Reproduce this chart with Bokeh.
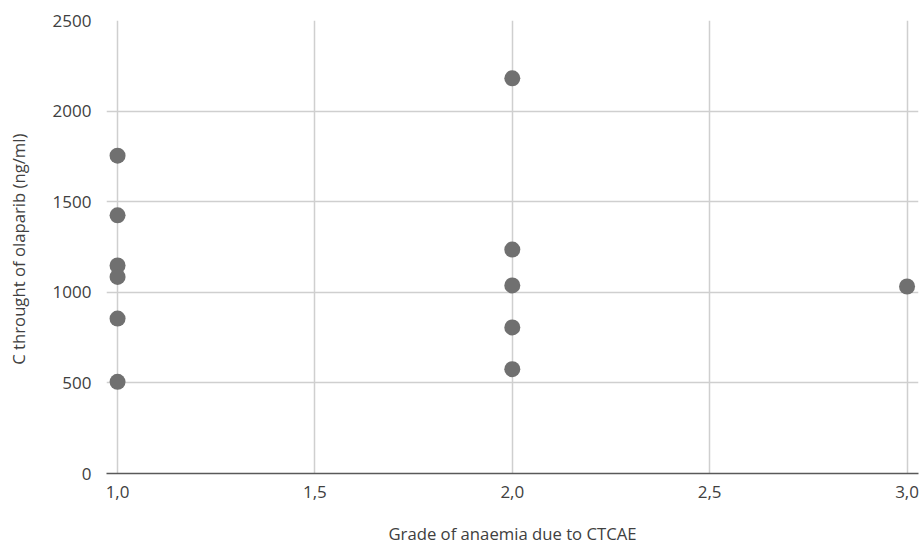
from bokeh.plotting import figure
from bokeh.models import Range1d, FixedTicker, ColumnDataSource
from bokeh.embed import file_html
from bokeh.resources import INLINE

grade = [1.0, 1.0, 1.0, 1.0, 1.0, 1.0, 2.0, 2.0, 2.0, 2.0, 2.0, 3.0]
ctrough = [1754, 1425, 1148, 1085, 855, 506, 2181, 1236, 1038, 806, 576, 1032]
x_ticks = [1.0, 1.5, 2.0, 2.5, 3.0]
x_tick_labels = {1.0: "1,0", 1.5: "1,5", 2.0: "2,0", 2.5: "2,5", 3.0: "3,0"}
y_ticks = [0, 500, 1000, 1500, 2000, 2500]

FONT = "Open Sans"
TEXT = "#404040"

p = figure(width=919, height=548, output_backend="svg", toolbar_location=None,
           x_range=Range1d(0.972, 3.029), y_range=Range1d(0, 2500),
           min_border_left=106, min_border_right=1, min_border_top=20, min_border_bottom=75)
p.outline_line_color = None
p.background_fill_color = "white"
p.border_fill_color = "white"

src = ColumnDataSource(dict(x=grade, y=ctrough))
p.scatter("x", "y", source=src, size=16, fill_color="#707070", line_color=None)

p.xgrid.ticker = FixedTicker(ticks=x_ticks)
p.ygrid.ticker = FixedTicker(ticks=y_ticks)
p.xgrid.grid_line_color = "#cfcfcf"
p.ygrid.grid_line_color = "#cfcfcf"
p.xgrid.grid_line_width = 1.5
p.ygrid.grid_line_width = 1.5

xa = p.xaxis[0]
xa.ticker = FixedTicker(ticks=x_ticks)
xa.major_label_overrides = x_tick_labels
xa.axis_line_color = "#595959"
xa.axis_line_width = 1.5
xa.major_tick_line_color = None
xa.minor_tick_line_color = None
xa.major_label_standoff = 6
xa.major_label_text_font = FONT
xa.major_label_text_font_size = "17px"
xa.major_label_text_color = TEXT
xa.axis_label = "Grade of anaemia due to CTCAE"
xa.axis_label_text_font = FONT
xa.axis_label_text_font_size = "16.7px"
xa.axis_label_text_font_style = "normal"
xa.axis_label_text_color = TEXT
xa.axis_label_standoff = 21

ya = p.yaxis[0]
ya.ticker = FixedTicker(ticks=y_ticks)
ya.axis_line_color = None
ya.major_tick_line_color = None
ya.minor_tick_line_color = None
ya.major_label_standoff = 9
ya.major_label_text_font = FONT
ya.major_label_text_font_size = "17px"
ya.major_label_text_color = TEXT
ya.axis_label = "C throught  of olaparib (ng/ml)"
ya.axis_label_text_font = FONT
ya.axis_label_text_font_size = "16.7px"
ya.axis_label_text_font_style = "normal"
ya.axis_label_text_color = TEXT
ya.axis_label_standoff = 20

open("out.html", "w").write(file_html(p, INLINE))
